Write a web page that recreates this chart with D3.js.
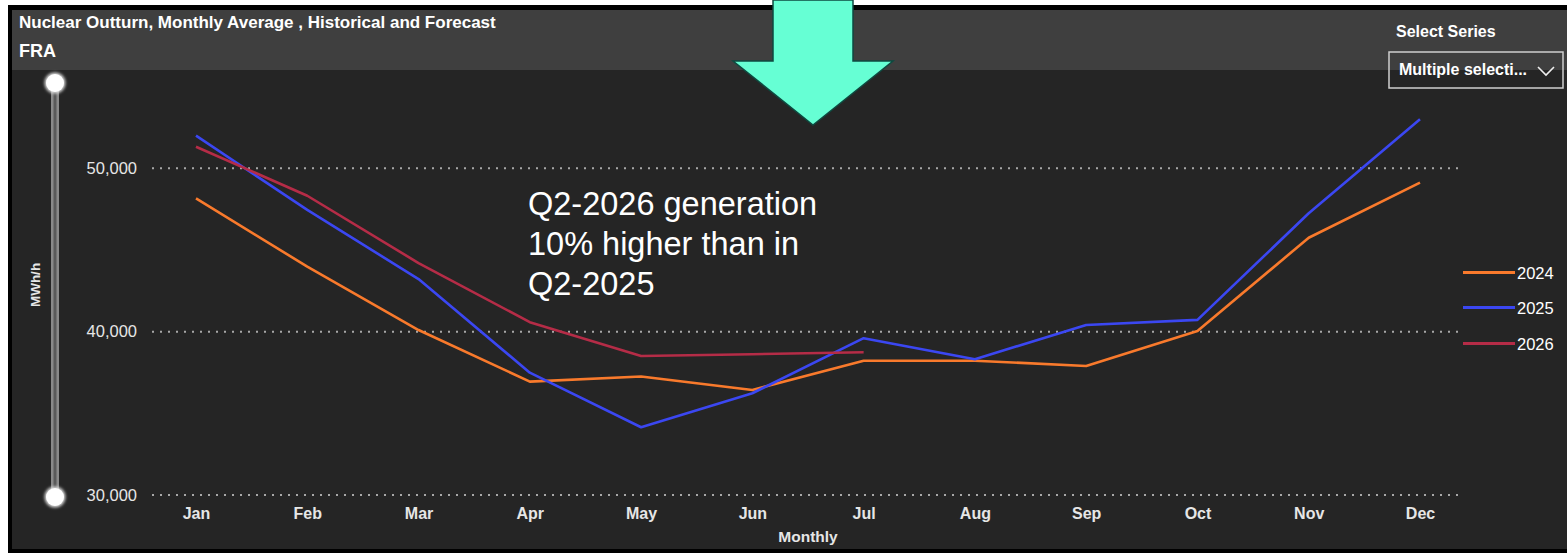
<!DOCTYPE html>
<html><head><meta charset="utf-8">
<script src="https://cdn.jsdelivr.net/npm/d3@7"></script>
<style>
html,body{margin:0;padding:0;background:#fff;}
svg{display:block;}
text{font-family:"Liberation Sans",Arial,sans-serif;}
</style></head>
<body>
<svg id="chart" width="1567" height="555"></svg>
<script>
const months = ["Jan","Feb","Mar","Apr","May","Jun","Jul","Aug","Sep","Oct","Nov","Dec"];
const series2024 = [48160,43980,40100,36940,37250,36430,38220,38220,37900,40040,45750,49120];
const series2025 = [52000,47450,43220,37490,34150,36230,39600,38310,40410,40720,47250,53000];
const series2026 = [51320,48320,44200,40580,38510,38620,38740];
const seriesNames = ["2024","2025","2026"];
const seriesColors = ["#f97a2c","#3b47f2","#b52c47"];
const yTicks = [30000,40000,50000];
const annotationLines = ["Q2-2026 generation","10% higher than in","Q2-2025"];

const svg = d3.select("#chart");

// frame
svg.append("rect").attr("x",8).attr("y",5).attr("width",1559).attr("height",548).attr("fill","#000");
svg.append("rect").attr("x",12).attr("y",10).attr("width",1555).attr("height",60).attr("fill","#3f3f3f");
svg.append("rect").attr("x",12).attr("y",70).attr("width",1555).attr("height",479).attr("fill","#252525");

// header
svg.append("text").attr("x",19).attr("y",28).attr("fill","#fff").attr("font-size",17).attr("font-weight","bold")
  .text("Nuclear Outturn, Monthly Average , Historical and Forecast");
svg.append("text").attr("x",19).attr("y",57).attr("fill","#fff").attr("font-size",18).attr("font-weight","bold").text("FRA");

// select series
svg.append("text").attr("x",1396).attr("y",37).attr("fill","#fff").attr("font-size",16).attr("font-weight","bold").text("Select Series");
svg.append("rect").attr("x",1389).attr("y",52).attr("width",174).attr("height",36).attr("fill","none").attr("stroke","#cfcfcf").attr("stroke-width",1.5);
svg.append("text").attr("x",1399).attr("y",75).attr("fill","#fff").attr("font-size",16).attr("font-weight","bold").text("Multiple selecti...");
svg.append("path").attr("d","M1538,67 L1546,75 L1554,67").attr("fill","none").attr("stroke","#eee").attr("stroke-width",1.6);

// scales
const x = d3.scalePoint().domain(months).range([196,1420]);
const y = d3.scaleLinear().domain([30000,50000]).range([495,168.3]);

// gridlines
svg.append("g").selectAll("line").data(yTicks).join("line")
  .attr("x1",152).attr("x2",1462).attr("y1",d=>y(d)).attr("y2",d=>y(d))
  .attr("stroke","#a8a8a8").attr("stroke-width",2).attr("stroke-dasharray","2,6");

// y axis
const yAxis = svg.append("g").attr("transform","translate(140,0)")
  .call(d3.axisLeft(y).tickValues(yTicks).tickFormat(d3.format(",")).tickSize(0).tickPadding(3));
yAxis.select(".domain").remove();
yAxis.selectAll("text").attr("fill","#e6e6e6").attr("font-size",16.5).attr("font-family","Liberation Sans, Arial, sans-serif");

// x axis
const xAxis = svg.append("g").attr("transform","translate(0,504)")
  .call(d3.axisBottom(x).tickSize(0).tickPadding(4));
xAxis.select(".domain").remove();
xAxis.selectAll("text").attr("fill","#e6e6e6").attr("font-size",16).attr("font-weight","bold").attr("font-family","Liberation Sans, Arial, sans-serif");

svg.append("text").attr("x",808).attr("y",542).attr("text-anchor","middle").attr("fill","#e6e6e6").attr("font-size",15.5).attr("font-weight","bold").text("Monthly");
svg.append("text").attr("transform","translate(40,285) rotate(-90)").attr("text-anchor","middle").attr("fill","#e6e6e6").attr("font-size",13.5).attr("font-weight","bold").text("MWh/h");

// slider
svg.append("rect").attr("x",51).attr("y",83).attr("width",8).attr("height",414).attr("fill","#8a8a8a");
svg.append("rect").attr("x",53.5).attr("y",83).attr("width",3).attr("height",414).attr("fill","#5a5a5a");
const glow = svg.append("defs").append("filter").attr("id","glow").attr("x","-50%").attr("y","-50%").attr("width","200%").attr("height","200%");
glow.append("feGaussianBlur").attr("stdDeviation",1.5);
[83,497].forEach(cy=>{
  svg.append("circle").attr("cx",55).attr("cy",cy).attr("r",10.5).attr("fill","#ddd").attr("filter","url(#glow)");
  svg.append("circle").attr("cx",55).attr("cy",cy).attr("r",9).attr("fill","#fff");
});

// lines
const line = d3.line().x((d,i)=>x(months[i])).y(d=>y(d));
[series2024,series2025,series2026].forEach((s,i)=>{
  svg.append("path").datum(s).attr("d",line).attr("fill","none")
    .attr("stroke",seriesColors[i]).attr("stroke-width",2.6).attr("stroke-linejoin","round");
});

// legend
const lg = svg.append("g");
const legendY = [272.5,307.5,343.5];
seriesNames.forEach((n,i)=>{
  const ly = legendY[i];
  lg.append("line").attr("x1",1463).attr("x2",1515).attr("y1",ly).attr("y2",ly).attr("stroke",seriesColors[i]).attr("stroke-width",3);
  lg.append("text").attr("x",1517).attr("y",ly+6).attr("fill","#fff").attr("font-size",16.5).text(n);
});

// annotation
svg.append("g").selectAll("text").data(annotationLines).join("text")
  .attr("x",528).attr("y",(d,i)=>215+i*40).attr("fill","#fff").attr("font-size",32.5).text(d=>d);

// arrow
svg.append("path").attr("d","M773,0 L853,0 L853,61 L893,61 L813,125 L733,61 L773,61 Z")
  .attr("fill","#66ffd4").attr("stroke","#0e4a40").attr("stroke-width",1.5);
</script>
</body></html>
